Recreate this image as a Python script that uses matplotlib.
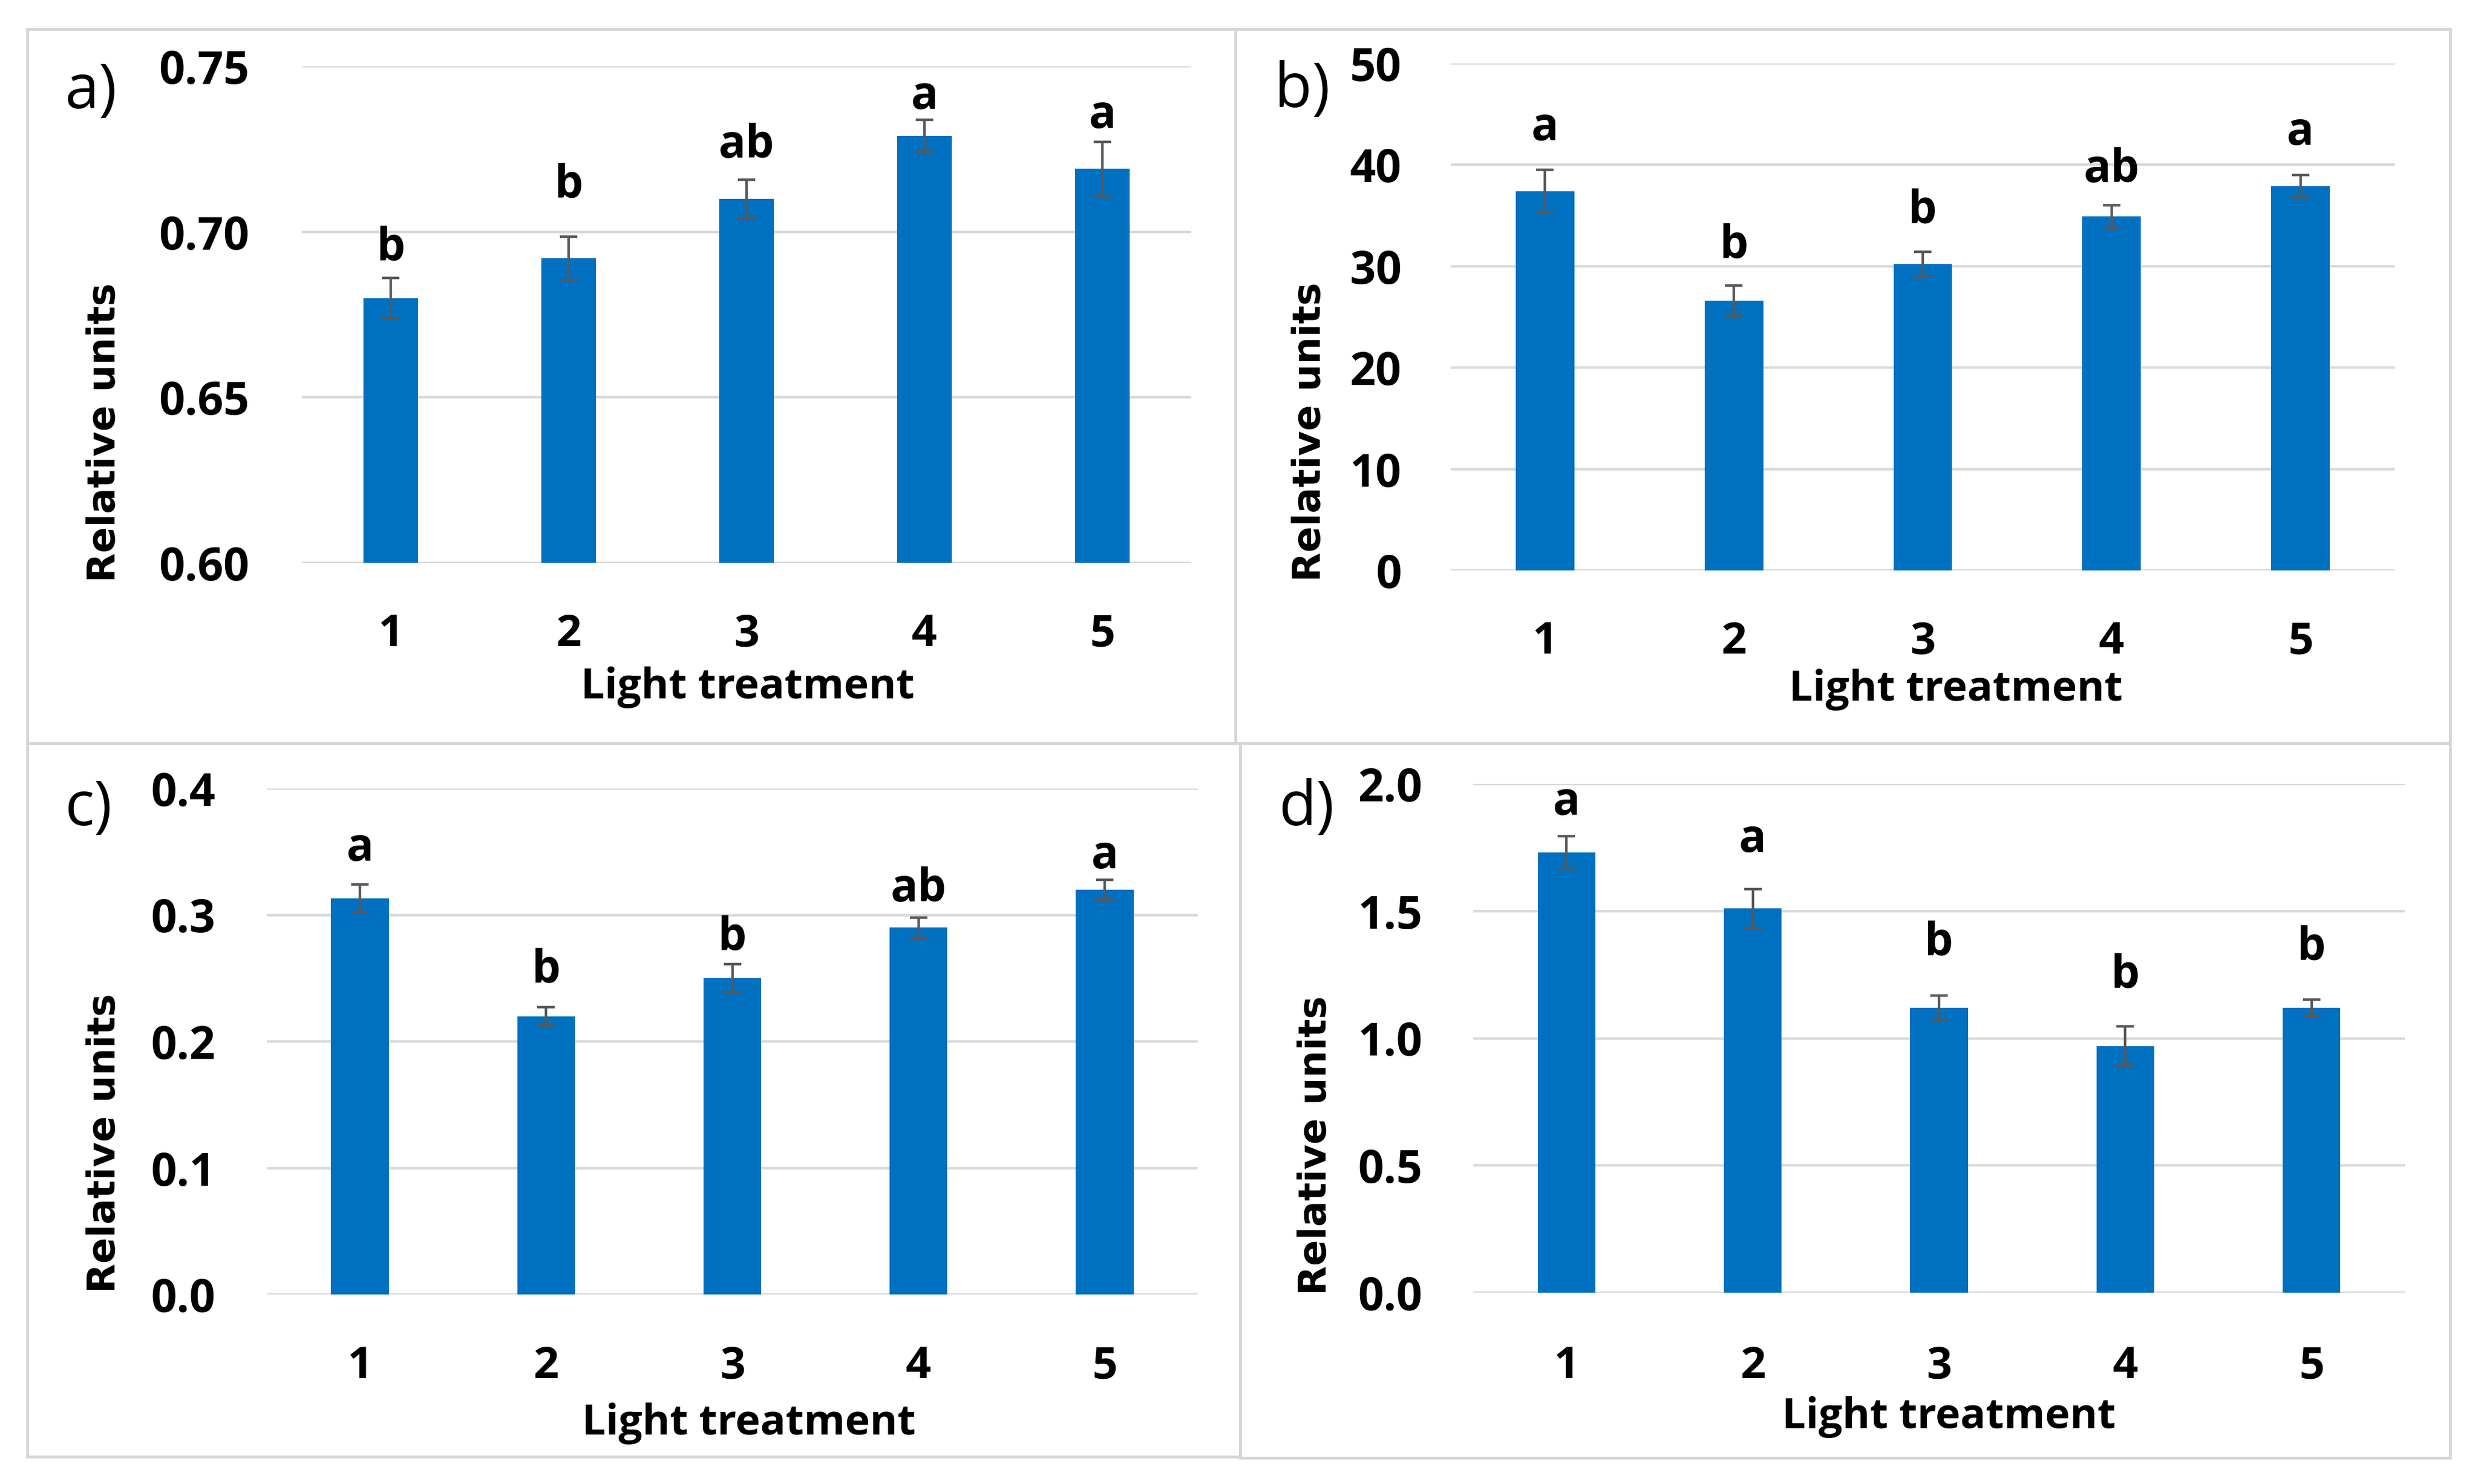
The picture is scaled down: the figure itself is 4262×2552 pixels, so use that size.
import matplotlib
matplotlib.use("Agg")
import matplotlib.pyplot as plt
from matplotlib.patches import Rectangle
from matplotlib.ticker import FormatStrFormatter

# ---------------- data ----------------
treatments = [1, 2, 3, 4, 5]
treatment_labels = ["1", "2", "3", "4", "5"]

a_values = [0.680, 0.692, 0.710, 0.729, 0.719]
a_errors = [0.0060, 0.0066, 0.0058, 0.0048, 0.0082]
a_letters = ["b", "b", "ab", "a", "a"]
a_yticks = [0.60, 0.65, 0.70, 0.75]

b_values = [37.4, 26.6, 30.2, 34.9, 37.9]
b_errors = [2.1, 1.5, 1.2, 1.1, 1.1]
b_letters = ["a", "b", "b", "ab", "a"]
b_yticks = [0, 10, 20, 30, 40, 50]

c_values = [0.313, 0.220, 0.250, 0.290, 0.320]
c_errors = [0.011, 0.007, 0.011, 0.008, 0.008]
c_letters = ["a", "b", "b", "ab", "a"]
c_yticks = [0.0, 0.1, 0.2, 0.3, 0.4]

d_values = [1.73, 1.51, 1.12, 0.97, 1.12]
d_errors = [0.064, 0.077, 0.047, 0.077, 0.032]
d_letters = ["a", "a", "b", "b", "b"]
d_yticks = [0.0, 0.5, 1.0, 1.5, 2.0]

panel_names = ["a)", "b)", "c)", "d)"]
y_label = "Relative units"
x_label = "Light treatment"

# ---------------- layout / style ----------------
W, H = 4262, 2552
DPI = 100
BAR_COLOR = "#0070C0"
ERR_COLOR = "#595959"
GRID_COLOR = "#d9d9d9"
BORDER_COLOR = "#d6d6d6"

plt.rcParams["font.family"] = ["Open Sans", "DejaVu Sans"]
plt.rcParams["font.weight"] = "bold"

fig = plt.figure(figsize=(W / DPI, H / DPI), dpi=DPI)
fig.patch.set_facecolor("white")

panels = [
    dict(values=a_values, errors=a_errors, letters=a_letters, yticks=a_yticks, fmt="%.2f",
         rect_px=(519, 114, 2049, 968), border_px=(47, 50, 2125, 1278),
         name_px=(111, 186), ylabel_px=(180, 744), xlabel_px=(1286, 1201),
         xpad=62, ypad=65, letter_off=[22, 48, 27, 14, 17]),
    dict(values=b_values, errors=b_errors, letters=b_letters, yticks=b_yticks, fmt="%d",
         rect_px=(2495, 109, 4119, 981), border_px=(2125, 50, 4214, 1278),
         name_px=(2192, 184), ylabel_px=(2253, 743), xlabel_px=(3364, 1205),
         xpad=62, ypad=61, letter_off=[37, 34, 36, 29, 37]),
    dict(values=c_values, errors=c_errors, letters=c_letters, yticks=c_yticks, fmt="%.1f",
         rect_px=(459, 1356, 2060, 2226), border_px=(47, 1278, 2133, 2505),
         name_px=(111, 1419), ylabel_px=(180, 1966), xlabel_px=(1288, 2467),
         xpad=63, ypad=64, letter_off=[30, 31, 18, 20, 14]),
    dict(values=d_values, errors=d_errors, letters=d_letters, yticks=d_yticks, fmt="%.1f",
         rect_px=(2534, 1348, 4136, 2223), border_px=(2133, 1278, 4214, 2507),
         name_px=(2199, 1419), ylabel_px=(2263, 1970), xlabel_px=(3352, 2456),
         xpad=65, ypad=63, letter_off=[27, 46, 50, 48, 49]),
]

for i, p in enumerate(panels):
    # panel border
    bx0, by0, bx1, by1 = p["border_px"]
    fig.add_artist(Rectangle((bx0 / W, 1 - by1 / H), (bx1 - bx0) / W, (by1 - by0) / H,
                             transform=fig.transFigure, fill=False,
                             edgecolor=BORDER_COLOR, linewidth=3.5, zorder=0))

    x0, y0, x1, y1 = p["rect_px"]
    ax = fig.add_axes([x0 / W, 1 - y1 / H, (x1 - x0) / W, (y1 - y0) / H])
    ax.set_facecolor("none")

    ax.bar(treatments, p["values"], width=0.31, color=BAR_COLOR, zorder=2)
    ax.errorbar(treatments, p["values"], yerr=p["errors"], fmt="none",
                ecolor=ERR_COLOR, elinewidth=3.2, capsize=11, capthick=3.2, zorder=3)

    for xi, v, e, lt, off in zip(treatments, p["values"], p["errors"], p["letters"], p["letter_off"]):
        ax.annotate(lt, xy=(xi, v + e), xytext=(0, off), textcoords="offset points",
                    ha="center", va="baseline", fontsize=56, fontweight="bold",
                    annotation_clip=False)

    ax.set_xlim(0.5, 5.5)
    ax.set_ylim(p["yticks"][0], p["yticks"][-1])
    ax.set_yticks(p["yticks"])
    ax.yaxis.set_major_formatter(FormatStrFormatter(p["fmt"]))
    ax.set_xticks(treatments)
    ax.set_xticklabels(treatment_labels)

    ax.yaxis.grid(True, color=GRID_COLOR, linewidth=3.2, zorder=0)
    ax.set_axisbelow(True)
    for s in ax.spines.values():
        s.set_visible(False)

    ax.tick_params(axis="x", length=0, pad=p["xpad"], labelsize=55)
    ax.tick_params(axis="y", length=0, pad=p["ypad"], labelsize=56)
    for lbl in ax.get_xticklabels() + ax.get_yticklabels():
        lbl.set_fontweight("bold")

    ax.set_ylabel(y_label, fontsize=47.5, fontweight="bold", family=["DejaVu Sans"])
    ax.yaxis.label.set_verticalalignment("center")
    lx, ly = p["ylabel_px"]
    ax.yaxis.set_label_coords(lx / W, 1 - ly / H, transform=fig.transFigure)

    ax.set_xlabel(x_label, fontsize=52, fontweight="bold")
    ax.xaxis.label.set_verticalalignment("baseline")
    xx, xy = p["xlabel_px"]
    ax.xaxis.set_label_coords(xx / W, 1 - xy / H, transform=fig.transFigure)

    nx, ny = p["name_px"]
    fig.text(nx / W, 1 - ny / H, panel_names[i], ha="left", va="baseline",
             fontsize=76, fontweight="normal")

fig.savefig("out.png", dpi=DPI, facecolor="white")
